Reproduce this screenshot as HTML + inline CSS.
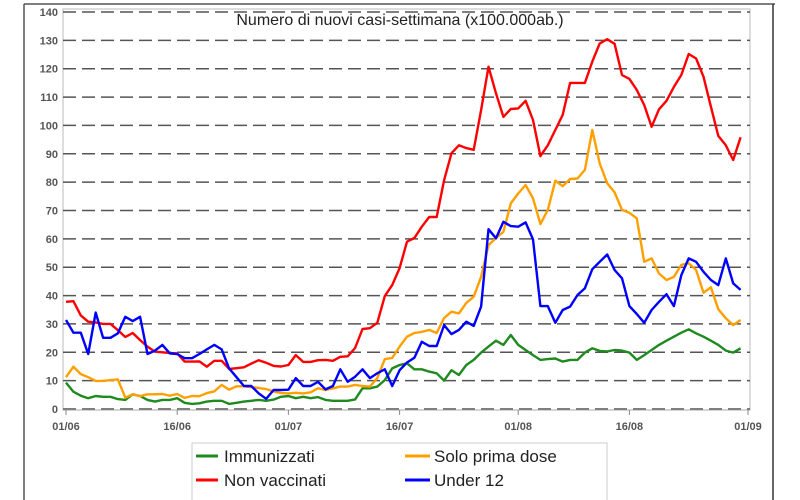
<!DOCTYPE html>
<html><head><meta charset="utf-8"><style>
body{margin:0;background:#fff;}
svg{display:block;font-family:"Liberation Sans",sans-serif;}
</style></head><body>
<svg id="chart" width="800" height="500">
<line x1="24" y1="4" x2="24" y2="500" stroke="#555" stroke-width="1.5"/>
<line x1="24" y1="4" x2="775" y2="4" stroke="#555" stroke-width="1.5"/>
<line x1="773" y1="4" x2="773" y2="500" stroke="#333" stroke-width="1.5"/>
<rect x="63" y="9" width="687" height="401" fill="none" stroke="#bbb" stroke-width="1"/>
<g id="grid"></g>
<g id="yticks"></g>
<g id="xticks"></g>
<text x="400" y="25" text-anchor="middle" font-size="16" fill="#222">Numero di nuovi casi-settimana (x100.000ab.)</text>
<g id="series"></g>
<g>
<rect x="192" y="443" width="415" height="60" fill="#fff" stroke="#ccc"/>
<g><line x1="196" y1="456" x2="218" y2="456" stroke="#1f8a1f" stroke-width="3"/><text x="224" y="462" font-size="17" fill="#222">Immunizzati</text></g>
<g><line x1="196" y1="480" x2="218" y2="480" stroke="#ff0000" stroke-width="3"/><text x="224" y="486" font-size="17" fill="#222">Non vaccinati</text></g>
<g><line x1="405" y1="456" x2="430" y2="456" stroke="#ffa000" stroke-width="3"/><text x="434" y="462" font-size="17" fill="#222">Solo prima dose</text></g>
<g><line x1="405" y1="480" x2="430" y2="480" stroke="#0000ff" stroke-width="3"/><text x="434" y="486" font-size="17" fill="#222">Under 12</text></g>
</g>
</svg>
<script>
const yTicks=[0,10,20,30,40,50,60,70,80,90,100,110,120,130,140];
const xTickLabels=["01/06","16/06","01/07","16/07","01/08","16/08","01/09"];
const xTickDays=[0,15,30,45,61,76,92];
const red=[37.8,38,33,30.8,30.5,30,30,27.8,25.4,26.8,24.3,22,20.2,20,19.8,19.6,16.7,16.7,16.8,14.9,17,17,14.1,14.4,14.7,16,17.2,16.3,15.2,15,15.5,19,16.6,16.6,17.2,17.3,17,18.4,18.6,21.5,28.2,28.5,30.4,39.8,43.7,49.7,59,60.3,64.3,67.7,67.7,80.7,90.2,93,92,91.4,105.4,120.7,111.3,103,105.8,106,108.7,101.9,89.2,93,98.4,103.7,115,115,115,122.5,128.9,130.4,128.8,117.8,116.4,112.5,107.2,99.5,105.7,108.7,113.6,117.8,125.2,123.6,117.2,106.6,96.3,93,87.8,95.8];
const orange=[11.2,14.9,12.3,11.2,9.9,9.9,10.2,10.4,4,5.2,4.5,5.2,5.2,5.3,4.7,5.3,3.9,4.6,4.5,5.6,6.2,8.5,6.8,8,8,7.7,7.4,7,6.2,5.6,5.5,5.7,5.5,5.9,7.3,6.7,7.3,7.9,7.9,8.5,8.1,7.9,10.9,17.6,18,22,25.5,26.8,27.2,27.9,26.8,32.1,34.3,33.7,37.4,39.6,46.6,57.8,60.3,62.5,72.5,76,79,74.3,65.2,70.2,80.5,78.6,81.1,81.3,84.3,98.4,86.6,79.6,76.4,70.2,69.2,67.2,51.9,53.1,47.8,45.5,46.6,50.8,51.4,49,41,42.9,35.2,32,29.6,31.4];
const blue=[31.4,26.9,26.9,19.4,34,25.1,25.1,26.7,32.5,31,32.5,19.4,20.6,22.6,19.6,19.4,17.9,17.9,19.4,21,22.6,21,14.3,11.2,8.1,8.1,5.5,3.6,6.7,6.7,6.8,10.9,8.1,8.1,9.6,6.9,8.1,14,9.6,11.4,14,10.9,12.6,14,8.1,13.7,16.4,18.1,23.7,22.2,22.2,29.6,26.4,27.9,30.8,29.3,36.1,63.4,60.2,66,64.5,64.3,65.8,59.8,36.3,36.3,30.4,34.9,36.1,40.2,42.6,49.3,51.9,54.5,49,46.1,36.3,33.5,30.4,34.9,37.8,40.5,36.3,47.2,53.1,51.9,48.4,45.5,43.7,53.1,44.3,42];
const green=[9.3,6.1,4.7,3.8,4.6,4.3,4.3,3.5,3.2,5.2,4.6,3.2,2.6,3.2,3.2,3.8,2.2,1.8,2,2.6,2.9,2.9,1.8,2.2,2.6,2.9,3.2,2.9,3.3,4.3,4.6,3.8,4.3,3.8,4.2,3.2,2.9,2.9,2.9,3.4,7.3,7.3,7.9,10.2,14.3,15.5,16.1,14,14,13.2,12.6,10,13.7,12,15.5,17.3,19.9,22,24.1,22.6,26.1,22.6,20.8,19,17.3,17.6,17.8,16.7,17.3,17.3,19.9,21.4,20.5,20.3,20.8,20.6,19.9,17.3,19,20.8,22.6,24.1,25.5,26.9,28.1,26.7,25.5,24.1,22.6,20.6,19.9,21.4];

const NS='http://www.w3.org/2000/svg';
const X0=66,DX=(748-66)/92,Y0=409,DY=(409-12)/140;
function xs(d){return X0+DX*d;}
function ys(v){return Y0-DY*v;}
function mk(tag,attrs,parent){const e=document.createElementNS(NS,tag);for(const k in attrs)e.setAttribute(k,attrs[k]);parent.appendChild(e);return e;}
const grid=document.getElementById('grid'),yt=document.getElementById('yticks'),xt=document.getElementById('xticks'),ser=document.getElementById('series');
yTicks.forEach(v=>{
  const l=mk('line',{x1:63,x2:750,y1:ys(v),y2:ys(v),stroke:'#555','stroke-width':1.5,'stroke-dasharray':'13,6'},grid);
  
  
  const t=mk('text',{x:58,y:ys(v)+4,'text-anchor':'end','font-size':11,'font-weight':'bold',fill:'#555'},yt);
  t.textContent=v;
  
  
});
mk('line',{x1:63,x2:750,y1:410,y2:410,stroke:'#aaa'},xt);
xTickLabels.forEach((lab,i)=>{
  const x=xs(xTickDays[i]);
  mk('line',{x1:x,x2:x,y1:410,y2:415,stroke:'#888'},xt);
  const t=mk('text',{x:x,y:430,'text-anchor':'middle','font-size':11,'font-weight':'bold',fill:'#555'},xt);
  t.textContent=lab;
  
  
});
function drawLine(arr,color,name){
  const pts=arr.map((v,i)=>xs(i).toFixed(1)+','+ys(v).toFixed(1)).join(' ');
  const p=mk('polyline',{points:pts,fill:'none',stroke:color,'stroke-width':2.4,'stroke-linejoin':'round'},ser);
  
  
}
drawLine(green,'#1f8a1f','line-immunizzati');
drawLine(orange,'#ffa000','line-solo-prima-dose');
drawLine(red,'#ff0000','line-non-vaccinati');
drawLine(blue,'#0000ff','line-under-12');
</script>
</body></html>
